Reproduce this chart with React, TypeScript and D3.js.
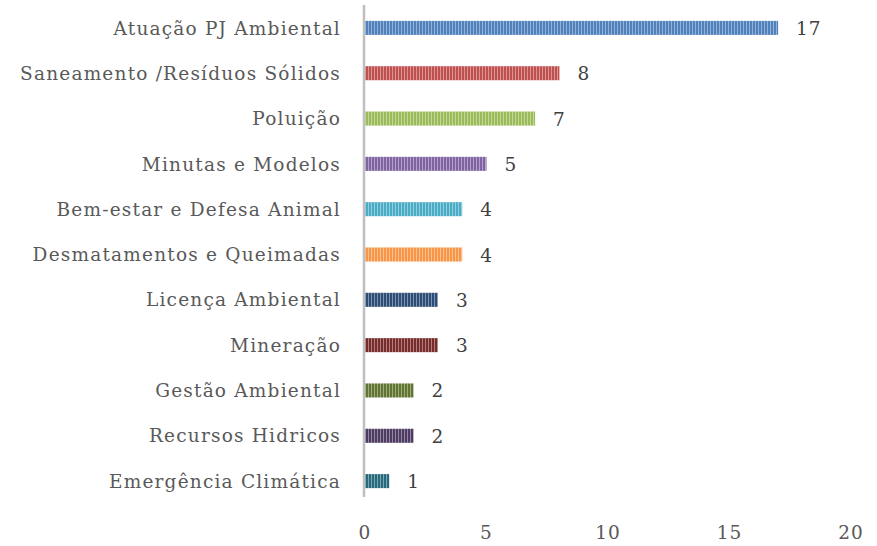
import { useEffect, useRef } from 'react';
import * as d3 from 'd3';

const CATEGORIES = [
  'Atuação PJ Ambiental',
  'Saneamento /Resíduos Sólidos',
  'Poluição',
  'Minutas e Modelos',
  'Bem-estar e Defesa Animal',
  'Desmatamentos e Queimadas',
  'Licença Ambiental',
  'Mineração',
  'Gestão Ambiental',
  'Recursos Hidricos',
  'Emergência Climática',
];
const VALUES = [17, 8, 7, 5, 4, 4, 3, 3, 2, 2, 1];
const COLORS = [
  '#4F81BD', '#C0504D', '#9BBB59', '#8064A2', '#4BACC6', '#F79646',
  '#2C4D75', '#772C2A', '#5F7530', '#4D3B62', '#276A7C',
];
const X_TICKS = [0, 5, 10, 15, 20];

export default function App() {
  const ref = useRef<SVGSVGElement>(null);

  useEffect(() => {
    if (!ref.current) return;
    const svg = d3.select(ref.current);
    svg.selectAll('*').remove();

    const width = 877;
    const height = 546;
    const x = d3.scaleLinear().domain([0, 20]).range([365, 851]);
    const y = d3.scaleBand().domain(CATEGORIES).range([5, 504]).paddingInner(0.69).paddingOuter(0.35);

    const defs = svg.append('defs');
    COLORS.forEach((c, i) => {
      const p = defs.append('pattern')
        .attr('id', `stripe${i}`)
        .attr('patternUnits', 'userSpaceOnUse')
        .attr('width', 3).attr('height', 10);
      p.append('rect').attr('width', 3).attr('height', 10).attr('fill', c);
      p.append('rect').attr('x', 2).attr('width', 1).attr('height', 10)
        .attr('fill', '#fff').attr('opacity', 0.4);
    });

    svg.attr('width', width).attr('height', height);

    svg.append('g').selectAll('rect').data(VALUES).enter().append('rect')
      .attr('x', x(0))
      .attr('y', (_, i) => y(CATEGORIES[i])!)
      .attr('width', d => x(d) - x(0))
      .attr('height', y.bandwidth())
      .attr('fill', (_, i) => `url(#stripe${i})`);

    // vertical axis line
    svg.append('line')
      .attr('x1', x(0) - 1).attr('x2', x(0) - 1)
      .attr('y1', 5).attr('y2', 497)
      .attr('stroke', '#BFBFBF').attr('stroke-width', 2.5);

    const serif = '"DejaVu Serif", serif';

    // category labels
    svg.append('g').selectAll('text').data(CATEGORIES).enter().append('text')
      .attr('x', 341)
      .attr('y', d => y(d)! + y.bandwidth() / 2)
      .attr('dy', '0.36em')
      .attr('text-anchor', 'end')
      .attr('font-family', serif)
      .attr('font-size', 18.5)
      .attr('letter-spacing', 1.2)
      .attr('fill', '#595959')
      .text(d => d);

    // value labels
    svg.append('g').selectAll('text').data(VALUES).enter().append('text')
      .attr('x', d => x(d) + 18)
      .attr('y', (_, i) => y(CATEGORIES[i])! + y.bandwidth() / 2)
      .attr('dy', '0.38em')
      .attr('font-family', serif)
      .attr('font-size', 18.5)
      .attr('letter-spacing', 1)
      .attr('fill', '#404040')
      .text(d => d);

    // x tick labels
    svg.append('g').selectAll('text').data(X_TICKS).enter().append('text')
      .attr('x', d => x(d))
      .attr('y', 533)
      .attr('dy', '0.35em')
      .attr('text-anchor', 'middle')
      .attr('font-family', serif)
      .attr('font-size', 18.5)
      .attr('letter-spacing', 1)
      .attr('fill', '#595959')
      .text(d => d);
  }, []);

  return <svg ref={ref} style={{ position: 'absolute', left: 0, top: 0 }} />;
}
